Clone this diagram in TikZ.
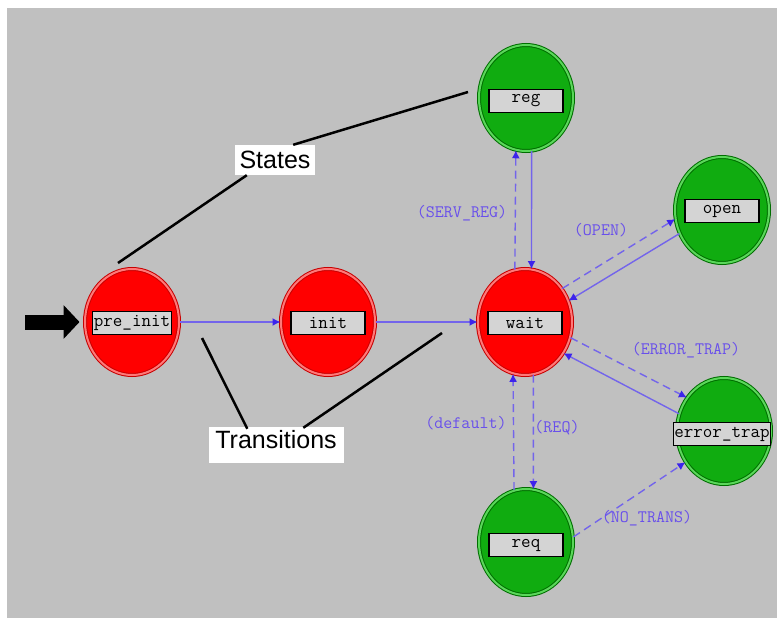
\documentclass[tikz,border=0pt]{standalone}
\usepackage{fontspec}
\setmainfont{Liberation Sans}
\usetikzlibrary{shapes.geometric,arrows.meta,calc}
\definecolor{bgc}{RGB}{192,192,192}
\definecolor{stred}{RGB}{255,0,0}
\definecolor{stredd}{RGB}{200,0,0}
\definecolor{stredl}{RGB}{255,120,120}
\definecolor{stgrn}{RGB}{16,172,16}
\definecolor{stgrnd}{RGB}{0,110,0}
\definecolor{stgrnl}{RGB}{90,215,90}
\definecolor{lblc}{RGB}{212,212,212}
\definecolor{edgec}{RGB}{115,100,235}
\definecolor{tipc}{RGB}{60,35,235}
\definecolor{elabc}{RGB}{105,80,235}
\tikzset{
  stbase/.style={ellipse, minimum width=94pt, minimum height=106pt, inner sep=0pt, line width=1pt, double distance=2pt},
  redst/.style={stbase, fill=stred, draw=stredd, double=stredl},
  grnst/.style={stbase, fill=stgrn, draw=stgrnd, double=stgrnl},
  lbl/.style={rectangle, fill=lblc, draw=black, line width=1.2pt, minimum width=74pt, minimum height=23pt, inner xsep=1pt, inner ysep=0pt, font=\ttfamily\fontsize{18.5}{18.5}\selectfont},
  trs/.style={draw=edgec, line width=1.4pt, -{Latex[length=8pt,width=8pt,color=tipc]}},
  trd/.style={trs, dash pattern=on 8pt off 5pt},
  elab/.style={text=elabc, inner sep=0pt, font=\ttfamily\fontsize{17.5}{17.5}\selectfont},
  annot/.style={draw=black, line width=2.5pt},
  callout/.style={fill=white, inner xsep=0pt, inner ysep=0pt, font=\fontsize{25}{25}\selectfont}
}
\begin{document}
\begin{tikzpicture}[x=1pt,y=-1pt]
\useasboundingbox (0,0) rectangle (777,618);
\fill[white] (0,0) rectangle (777,618);
\fill[bgc] (7,8) rectangle (777,618);

% states
\node[redst] (pre_init) at (132,322) {};
\node[redst] (init) at (328,322) {};
\node[redst] (wait) at (525,322) {};
\node[grnst] (reg) at (526,98) {};
\node[grnst] (open) at (722,210) {};
\node[grnst] (err) at (724,431) {};
\node[grnst] (req) at (526,542) {};

% state labels
\node[lbl] (pre_init-l) at (132,323) {pre\_init};
\node[lbl] (init-l) at (328,323) {init};
\node[lbl] (wait-l) at (525,323) {wait};
\node[lbl] (reg-l) at (526,101) {reg};
\node[lbl] (open-l) at (722,211) {open};
\node[lbl] (err-l) at (722,434) {error\_trap};
\node[lbl] (req-l) at (526,545) {req};

% entry arrow
\coordinate (entry) at (25,322);
\draw[line width=15pt, -{Triangle[length=16pt,width=33pt]}, shorten >=5pt] (entry) -- (pre_init.west);

% transitions
\draw[trs] (pre_init.east) -- (init.west);
\draw[trs] (init.east) -- (wait.west);
\draw[trd] (wait.101) -- (reg.259);
\draw[trs] (reg.276) -- (wait.83);
\draw[trd] (wait.42) -- (open.191);
\draw[trs] (open.209) -- (wait.26);
\draw[trd] (wait.341) -- (err.138);
\draw[trs] (err.159) -- (wait.321);
\draw[trd] (wait.279) -- (req.82);
\draw[trd] (req.103) -- (wait.257);
\draw[trd] (req.6) -- (err.219);

% transition labels
\node[elab] (l-serv) at (462,213) {(SERV\_REG)};
\node[elab] (l-open) at (601,230) {(OPEN)};
\node[elab] (l-errt) at (686,350) {(ERROR\_TRAP)};
\node[elab] (l-def) at (466,423) {(default)};
\node[elab] (l-req) at (557,428) {(REQ)};
\node[elab] (l-notr) at (647,518) {(NO\_TRANS)};

% callouts
\node[callout, minimum width=80pt, text height=23pt, text depth=7pt] (states) at (275,160) {States};
\node[callout, minimum width=135pt, text height=21pt, text depth=15pt] (trans) at (276,445) {Transitions};

\coordinate (s1) at (118,263);
\coordinate (s2) at (468,92);
\coordinate (t1) at (202,338);
\coordinate (t2) at (442,333);
\draw[annot] (s1) -- ($(states.south west)+(12,0)$);
\draw[annot] ($(states.north east)+(-22,0)$) -- (s2);
\draw[annot] (t1) -- ($(trans.north west)+(39,2)$);
\draw[annot] ($(trans.north west)+(95,1)$) -- (t2);
\end{tikzpicture}
\end{document}
